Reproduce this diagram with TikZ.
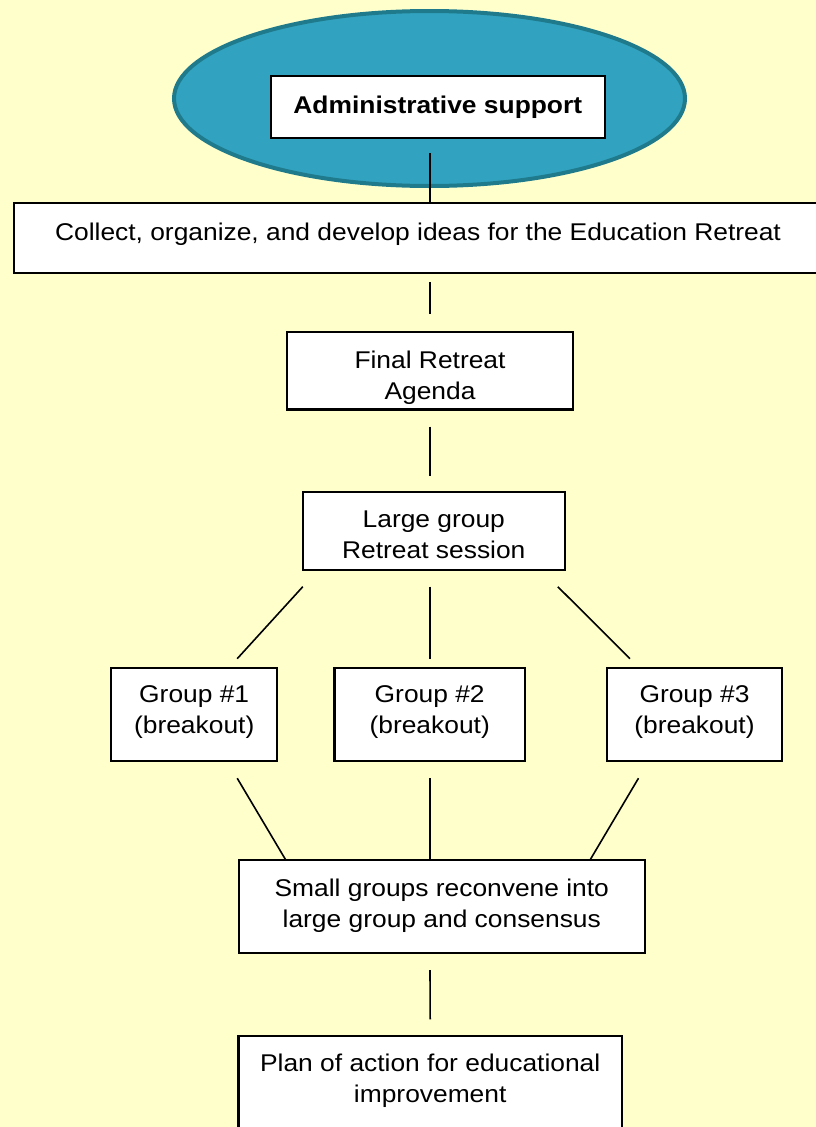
\documentclass[tikz,border=0pt]{standalone}
\usepackage{fontspec}
\setmainfont{Liberation Sans}[FakeStretch=1.09]
\usetikzlibrary{shapes.geometric,calc}
\definecolor{bg}{HTML}{FFFFCC}
\definecolor{ovalfill}{HTML}{31A3C0}
\definecolor{ovaldraw}{HTML}{1F7A8C}
\tikzset{
  stepbox/.style={draw=black, line width=2.2pt, fill=white, inner sep=0pt, outer sep=0pt},
  txt/.style={font=\fontsize{24.2}{31}\selectfont, align=center, text=black, inner sep=0pt},
  conn/.style={draw=black, line width=1.6pt},
  oval/.style={ellipse, draw=ovaldraw, fill=ovalfill, line width=4pt, inner sep=0pt, outer sep=0pt},
}
\begin{document}
\begin{tikzpicture}[x=1pt,y=-1pt]
\fill[bg] (0,0) rectangle (816,1127);
\useasboundingbox (0,0) rectangle (816,1127);

% oval and top box
\node[oval, minimum width=511pt, minimum height=175pt] (oval) at (429.5,98.5) {};
\node[stepbox, minimum width=334pt, minimum height=62pt,
  label={[txt, font=\fontsize{24.2}{31}\selectfont\bfseries]center:{Administrative support}}] (admin) at (437.8,106.9) {};

% boxes
\node[stepbox, minimum width=808pt, minimum height=70pt,
  label={[txt, yshift=4.2pt]center:{Collect, organize, and develop ideas for the Education Retreat}}] (collect) at (418,238) {};
\node[stepbox, minimum width=286pt, minimum height=77.5pt,
  label={[txt, yshift=-6.7pt]center:{Final Retreat\\Agenda}}] (final) at (430,370.8) {};
\node[stepbox, minimum width=262pt, minimum height=78pt,
  label={[txt, yshift=-4.3pt]center:{Large group\\Retreat session}}] (large) at (433.8,530.7) {};
\node[stepbox, minimum width=166pt, minimum height=93pt,
  label={[txt, yshift=2pt]center:{Group \#1\\(breakout)}}] (g1) at (194.2,714.2) {};
\node[stepbox, minimum width=190.5pt, minimum height=93pt,
  label={[txt, yshift=2pt]center:{Group \#2\\(breakout)}}] (g2) at (429.7,714.2) {};
\node[stepbox, minimum width=175.5pt, minimum height=93pt,
  label={[txt, yshift=2pt]center:{Group \#3\\(breakout)}}] (g3) at (694.5,714.2) {};
\node[stepbox, minimum width=406pt, minimum height=93.3pt,
  label={[txt, yshift=0.9pt]center:{Small groups reconvene into\\large group and consensus}}] (small) at (441.8,906.7) {};
\node[stepbox, minimum width=383.5pt, minimum height=114.2pt,
  label={[txt, yshift=12.2pt]center:{Plan of action for educational\\improvement}}] (plan) at (430.2,1092.9) {};

% connectors
\draw[conn] ($(admin.south -| final.north)+(0,15)$) -- (collect.north -| final.north);
\draw[conn] ($(collect.south -| final.north)+(0,9)$) -- ($(final.north)+(0,-18)$);
\draw[conn] ($(final.south)+(0,17)$) -- ($(large.north -| final.north)+(0,-16)$);

\draw[conn] ($(large.south west)+(0,17)$) -- ($(g1.north)+(43,-9)$);
\draw[conn] ($(large.south -| g2.north)+(0,17)$) -- ($(g2.north)+(0,-9)$);
\draw[conn] ($(large.south east)+(-7,17)$) -- ($(g3.north)+(-64.5,-9)$);

\draw[conn] ($(g1.south)+(43,17.5)$) -- ($(small.north west)+(47,0)$);
\draw[conn] ($(g2.south)+(0,17.5)$) -- (small.north -| g2.south);
\draw[conn] ($(g3.south)+(-56,17.5)$) -- ($(small.north east)+(-54.8,0)$);

\draw[conn] ($(small.south -| final.south)+(0,16.7)$) -- ($(plan.north)+(0,-16.5)$);
\end{tikzpicture}
\end{document}
